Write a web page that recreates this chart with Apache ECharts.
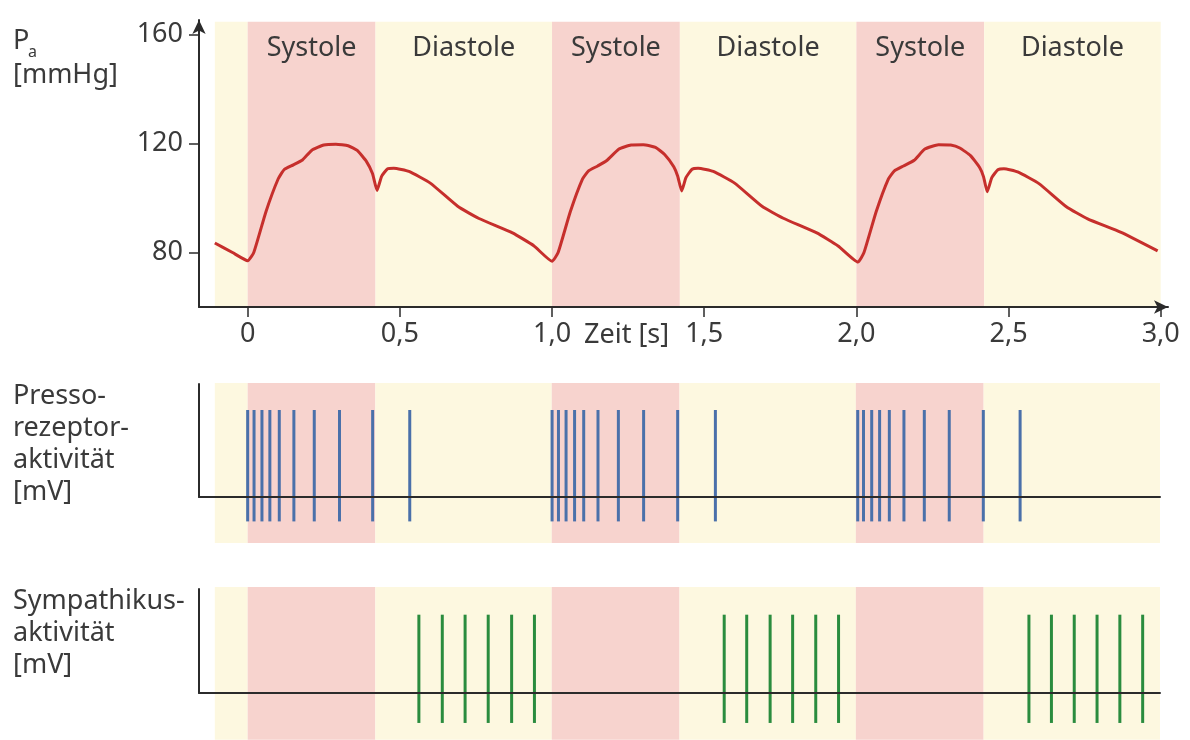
<!doctype html>
<html>
<head>
<meta charset="utf-8">
<title>Pressorezeptor</title>
<style>
  html, body { margin: 0; padding: 0; background: #fff; }
  #main { width: 1190px; height: 740px; }
</style>
</head>
<body>
<div id="main"></div>
<script src="https://cdn.jsdelivr.net/npm/echarts@6.0.0/dist/echarts.min.js"></script>
<script>
var chart = echarts.init(document.getElementById('main'));

// Herzphasen (Zeit in s)
var phaseStart = [-0.108, 0.0, 0.42, 1.0, 1.42, 2.0, 2.42];
var phaseEnd   = [0.0, 0.42, 1.0, 1.42, 2.0, 2.42, 3.0];
var phaseLabel = ['', 'Systole', 'Diastole', 'Systole', 'Diastole', 'Systole', 'Diastole'];

// arterieller Druck P_a [mmHg]
var pressureTime = [
  -0.108, -0.05, 0.0, 0.02, 0.06, 0.10, 0.12, 0.15, 0.18, 0.21, 0.25, 0.29, 0.33, 0.36,
  0.39, 0.41, 0.425, 0.44, 0.46, 0.48, 0.53, 0.60, 0.69, 0.76, 0.87, 0.94, 1.0,
  1.02, 1.06, 1.10, 1.12, 1.15, 1.18, 1.22, 1.26, 1.30, 1.34, 1.37,
  1.40, 1.413, 1.426, 1.44, 1.46, 1.48, 1.53, 1.60, 1.69, 1.76, 1.87, 1.94, 2.005,
  2.025, 2.065, 2.105, 2.125, 2.155, 2.19, 2.225, 2.27, 2.31, 2.34, 2.375,
  2.405, 2.418, 2.43, 2.445, 2.465, 2.485, 2.53, 2.60, 2.69, 2.76, 2.87, 2.99
];
var pressureValue = [
  83.5, 80, 77, 80, 95, 107, 110.5, 112.2, 114, 117.5, 119.5, 119.8, 119.2, 117.5,
  113.5, 109, 102.8, 108, 110.8, 111, 109.8, 105.5, 97, 92.5, 87.2, 82.5, 76.8,
  80, 95, 107, 110, 111.8, 113.8, 118, 119.5, 119.6, 118.6, 116,
  111.5, 108, 102.6, 107.5, 110.6, 111, 109.8, 105.5, 97, 92.6, 87.2, 82.4, 76.5,
  80, 95, 107, 110, 111.8, 113.9, 118, 119.6, 119.5, 118.4, 115.6,
  111.2, 107.8, 102.3, 107.5, 110.4, 110.8, 109.6, 105.3, 96.8, 92.4, 87.4, 80.6
];

// Aktionspotenziale (Zeitpunkte in s)
var pressoSpikes = [
  0.0, 0.021, 0.047, 0.073, 0.104, 0.152, 0.219, 0.302, 0.411, 0.533,
  1.001, 1.022, 1.047, 1.075, 1.105, 1.152, 1.219, 1.302, 1.414, 1.538,
  2.006, 2.025, 2.052, 2.078, 2.110, 2.158, 2.225, 2.307, 2.419, 2.540
];
var sympSpikes = [
  0.563, 0.640, 0.715, 0.791, 0.868, 0.943,
  1.567, 1.641, 1.718, 1.792, 1.868, 1.943,
  2.569, 2.643, 2.718, 2.793, 2.868, 2.943
];

var timeTicks = [0, 0.5, 1.0, 1.5, 2.0, 2.5, 3.0];
var pressureTicks = [80, 120, 160];

var FONT = '"Noto Sans", sans-serif';
var TXT = '#3a3a3a';
var YELLOW = '#fdf8e0';
var PINK = '#f7d3ce';

function bandSeries(gi, lo, hi, withText) {
  return {
    type: 'custom',
    xAxisIndex: gi,
    yAxisIndex: gi,
    clip: false,
    z: 1,
    silent: true,
    data: phaseStart.map(function (s, i) { return [s, phaseEnd[i]]; }),
    encode: { x: [0, 1] },
    renderItem: function (params, api) {
      var i = params.dataIndex;
      var p0 = api.coord([api.value(0), hi]);
      var p1 = api.coord([api.value(1), lo]);
      var isSys = phaseLabel[i] === 'Systole';
      var children = [{
        type: 'rect',
        shape: { x: p0[0], y: p0[1], width: p1[0] - p0[0], height: p1[1] - p0[1] },
        style: { fill: isSys ? PINK : YELLOW }
      }];
      if (withText && phaseLabel[i]) {
        var c = api.coord([(api.value(0) + api.value(1)) / 2, 155]);
        children.push({
          type: 'text',
          style: {
            text: phaseLabel[i], x: c[0], y: c[1],
            align: 'center', verticalAlign: 'middle',
            textAlign: 'center', textVerticalAlign: 'middle',
            fontSize: 27, fontFamily: FONT, fill: TXT
          }
        });
      }
      return { type: 'group', children: children };
    }
  };
}

function spikeSeries(gi, times, lo, hi, color) {
  return {
    type: 'custom',
    xAxisIndex: gi,
    yAxisIndex: gi,
    clip: false,
    z: 3,
    silent: true,
    data: times.map(function (t) { return [t]; }),
    encode: { x: 0 },
    renderItem: function (params, api) {
      var a = api.coord([api.value(0), lo]);
      var b = api.coord([api.value(0), hi]);
      return {
        type: 'line',
        shape: { x1: a[0], y1: a[1], x2: b[0], y2: b[1] },
        style: { stroke: color, lineWidth: 3 }
      };
    }
  };
}

var axisLineStyle = { color: '#2b2b2b', width: 2 };

function plainX(gi) {
  return {
    gridIndex: gi, type: 'value', min: -0.16, max: 3.0, z: 10,
    axisLine: { onZero: false, lineStyle: axisLineStyle },
    axisTick: { show: false }, axisLabel: { show: false }, splitLine: { show: false }
  };
}
function plainY(gi) {
  return {
    gridIndex: gi, type: 'value', min: 0, max: 1, z: 10,
    axisLine: { show: true, onZero: false, lineStyle: axisLineStyle },
    axisTick: { show: false }, axisLabel: { show: false }, splitLine: { show: false }
  };
}

chart.setOption({
  animation: false,
  backgroundColor: '#fff',
  grid: [
    { left: 199, top: 20, width: 969, height: 287 },
    { left: 199, top: 384, width: 961, height: 113 },
    { left: 199, top: 589, width: 961, height: 104 }
  ],
  xAxis: [
    {
      gridIndex: 0, type: 'value', min: -0.16, max: 3.024, z: 10,
      axisLine: { onZero: false, lineStyle: axisLineStyle, symbol: ['none', 'arrow'], symbolSize: [10, 14] },
      axisTick: { show: true, customValues: timeTicks, length: 10, lineStyle: { color: '#2b2b2b', width: 1.5 } },
      axisLabel: {
        customValues: timeTicks, margin: 14, fontSize: 27, fontFamily: FONT, color: TXT,
        formatter: function (v) { return v === 0 ? '0' : v.toFixed(1).replace('.', ','); }
      },
      splitLine: { show: false }
    },
    plainX(1),
    plainX(2)
  ],
  yAxis: [
    {
      gridIndex: 0, type: 'value', min: 60, max: 165.4, z: 10,
      axisLine: { show: true, onZero: false, lineStyle: axisLineStyle, symbol: ['none', 'arrow'], symbolSize: [10, 14] },
      axisTick: { show: true, customValues: pressureTicks, length: 10, lineStyle: { color: '#2b2b2b', width: 1.5 } },
      axisLabel: { customValues: pressureTicks, margin: 16, fontSize: 27, fontFamily: FONT, color: TXT },
      splitLine: { show: false }
    },
    plainY(1),
    plainY(2)
  ],
  graphic: [
    { type: 'text', left: 13, top: 28, style: { text: 'P', fontSize: 27, fontFamily: FONT, fill: TXT } },
    { type: 'text', left: 28, top: 44, style: { text: 'a', fontSize: 16, fontFamily: FONT, fill: TXT } },
    { type: 'text', left: 13, top: 62, style: { text: '[mmHg]', fontSize: 27, fontFamily: FONT, fill: TXT } },
    { type: 'text', left: 584, top: 322, style: { text: 'Zeit [s]', fontSize: 27, fontFamily: FONT, fill: TXT } },
    { type: 'text', left: 13, top: 380, style: { text: 'Presso-\nrezeptor-\naktivität\n[mV]', fontSize: 27, lineHeight: 32, fontFamily: FONT, fill: TXT } },
    { type: 'text', left: 13, top: 585, style: { text: 'Sympathikus-\naktivität\n[mV]', fontSize: 27, lineHeight: 32, fontFamily: FONT, fill: TXT } }
  ],
  series: [
    bandSeries(0, 60.4, 164.8, true),
    bandSeries(1, -0.407, 1.009, false),
    bandSeries(2, -0.45, 1.019, false),
    {
      type: 'line',
      xAxisIndex: 0,
      yAxisIndex: 0,
      z: 4,
      silent: true,
      showSymbol: false,
      smooth: 0.15,
      data: pressureTime.map(function (t, i) { return [t, pressureValue[i]]; }),
      lineStyle: { color: '#c62f2c', width: 3 }
    },
    spikeSeries(1, pressoSpikes, -0.216, 0.77, '#4a70aa'),
    spikeSeries(2, sympSpikes, -0.288, 0.753, '#2a8c3e')
  ]
});
</script>
</body>
</html>
